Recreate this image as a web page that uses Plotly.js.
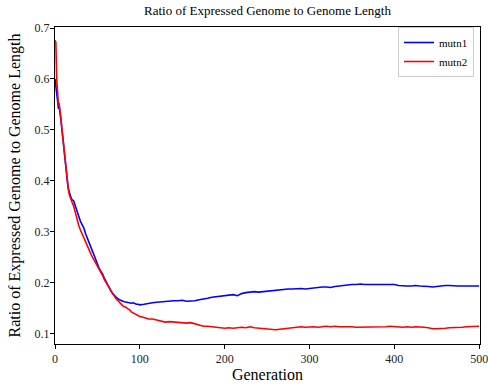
<!DOCTYPE html>
<html>
<head>
<meta charset="utf-8">
<script src="https://cdn.plot.ly/plotly-3.0.1.min.js"></script>
<style>html,body{margin:0;padding:0;background:#fff;}#chart{width:488px;height:386px;}</style>
</head>
<body>
<div id="chart"></div>
<script>
const generation = [0,1,2,3,4,5,6,7,8,9,10,11,12,13,14,15,16,17,18,19,20,
22,24,26,28,30,32,34,36,38,40,42,44,46,48,50,52,54,56,58,60,62,64,66,68,70,72,74,76,78,80,82,84,86,88,90,92,94,96,98,100,
105,110,115,120,125,130,135,140,145,150,155,160,165,170,175,180,185,190,195,200,
205,210,215,220,225,230,235,240,245,250,255,260,265,270,275,280,285,290,295,300,
305,310,315,320,325,330,335,340,345,350,355,360,365,370,375,380,385,390,395,400,
405,410,415,420,425,430,435,440,445,450,455,460,465,470,475,480,485,490,495,500];

const mutn1 = [0.600,0.585,0.566,0.548,0.543,0.544,0.535,0.520,0.503,0.486,0.468,0.452,0.436,0.418,0.402,0.392,0.382,0.375,0.370,0.366,0.363,
0.360,0.350,0.338,0.330,0.320,0.313,0.307,0.296,0.287,0.276,0.268,0.262,0.254,0.244,0.236,0.228,0.222,0.217,0.209,0.202,0.196,0.190,0.183,0.178,0.174,0.170,0.168,0.166,0.164,0.163,0.162,0.161,0.160,0.159,0.159,0.160,0.158,0.157,0.157,0.156,
0.157,0.159,0.160,0.161,0.162,0.162,0.163,0.164,0.164,0.165,0.163,0.163,0.164,0.166,0.167,0.169,0.171,0.172,0.172,0.174,
0.175,0.176,0.174,0.178,0.180,0.181,0.182,0.181,0.182,0.182,0.183,0.184,0.185,0.186,0.187,0.187,0.188,0.188,0.187,0.188,
0.190,0.190,0.191,0.191,0.190,0.192,0.193,0.194,0.196,0.196,0.196,0.197,0.196,0.196,0.197,0.197,0.196,0.197,0.197,0.196,
0.194,0.193,0.193,0.193,0.194,0.193,0.193,0.192,0.191,0.192,0.194,0.194,0.194,0.193,0.193,0.193,0.193,0.193,0.193,0.193];

const mutn2 = [0.676,0.672,0.600,0.556,0.550,0.551,0.540,0.522,0.505,0.490,0.472,0.455,0.440,0.420,0.403,0.392,0.380,0.372,0.366,0.362,0.358,
0.350,0.336,0.322,0.312,0.303,0.295,0.288,0.280,0.270,0.262,0.257,0.250,0.244,0.238,0.233,0.228,0.221,0.214,0.206,0.200,0.194,0.189,0.183,0.178,0.173,0.168,0.164,0.160,0.156,0.154,0.152,0.151,0.148,0.146,0.142,0.140,0.138,0.137,0.135,0.133,
0.131,0.128,0.128,0.126,0.124,0.122,0.123,0.122,0.121,0.121,0.120,0.121,0.119,0.116,0.114,0.114,0.113,0.112,0.111,0.110,
0.111,0.110,0.111,0.112,0.111,0.113,0.111,0.110,0.109,0.108,0.107,0.107,0.108,0.109,0.111,0.111,0.112,0.113,0.112,0.113,
0.113,0.112,0.113,0.114,0.113,0.114,0.113,0.113,0.114,0.113,0.112,0.112,0.113,0.113,0.112,0.113,0.113,0.113,0.114,0.113,
0.112,0.112,0.113,0.112,0.113,0.113,0.112,0.111,0.109,0.109,0.109,0.110,0.111,0.111,0.112,0.112,0.113,0.113,0.113,0.114];

const seriesNames = ["mutn1", "mutn2"];
const xTickVals = [0,100,200,300,400,500];
const yTickVals = [0.1,0.2,0.3,0.4,0.5,0.6,0.7];
const yTickText = ["0.1","0.2","0.3","0.4","0.5","0.6","0.7"];

const font = "Liberation Serif";

const traces = [
  {x: generation, y: mutn1, name: seriesNames[0], type: "scatter", mode: "lines",
   line: {color: "#0000ff", width: 1.6}},
  {x: generation, y: mutn2, name: seriesNames[1], type: "scatter", mode: "lines",
   line: {color: "#ff0000", width: 1.6}}
];

const layout = {
  width: 488, height: 386,
  margin: {l: 55, r: 8, t: 27, b: 42},
  paper_bgcolor: "#fff", plot_bgcolor: "#fff",
  font: {family: font, color: "#000"},
  showlegend: true,
  title: {text: "Ratio of Expressed Genome to Genome Length", font: {family: font, size: 13, color: "#000"},
          x: 0.5, xref: "paper", y: 1, yref: "container", yanchor: "top", pad: {t: 6}},
  xaxis: {
    range: [0, 501], tickvals: xTickVals, ticks: "outside", ticklen: 4, tickwidth: 1, tickcolor: "#000",
    showline: true, linecolor: "#000", linewidth: 1, mirror: true, showgrid: false, zeroline: false,
    ticklabeloverflow: "allow",
    tickfont: {family: font, size: 12, color: "#222"},
    title: {text: "Generation", font: {family: font, size: 16, color: "#000"}, standoff: 3}
  },
  yaxis: {
    range: [0.079, 0.702], tickvals: yTickVals, ticktext: yTickText, ticks: "outside", ticklen: 4, tickwidth: 1, tickcolor: "#000",
    showline: true, linecolor: "#000", linewidth: 1, mirror: true, showgrid: false, zeroline: false,
    ticklabeloverflow: "allow", ticklabelstandoff: -2,
    tickfont: {family: font, size: 12, color: "#222"},
    title: {text: "Ratio of Expressed Genome to Genome Length", font: {family: font, size: 16, color: "#000"}, standoff: 9}
  },
  legend: {
    x: 0.986, xanchor: "right", y: 1.0, yanchor: "top",
    bgcolor: "rgba(255,255,255,0.8)", bordercolor: "#cccccc", borderwidth: 1,
    font: {family: font, size: 11, color: "#000"}, tracegroupgap: 0, itemwidth: 30
  }
};

Plotly.newPlot("chart", traces, layout, {displayModeBar: false, staticPlot: true});
</script>
</body>
</html>
